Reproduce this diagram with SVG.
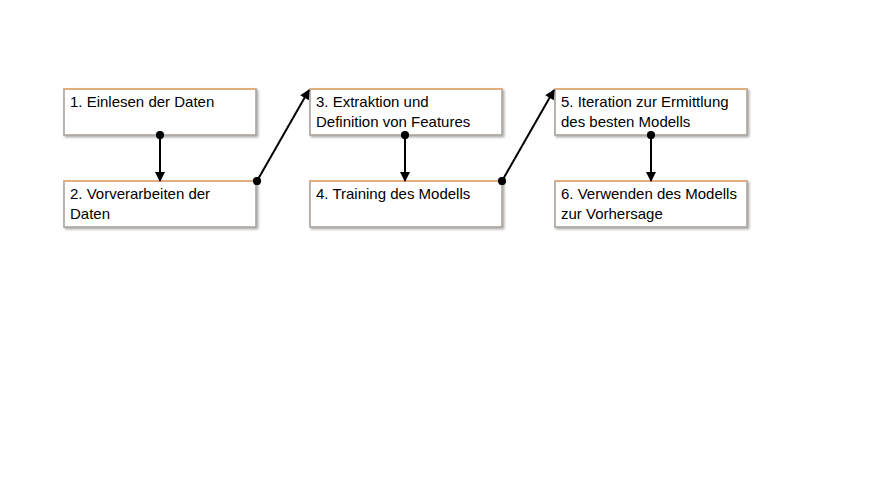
<svg xmlns="http://www.w3.org/2000/svg" width="872" height="490" viewBox="0 0 872 490">
<defs>
<marker id="arr" viewBox="0 0 10 10" refX="9" refY="5" markerWidth="5.5" markerHeight="5" markerUnits="strokeWidth" orient="auto"><path d="M0,0 L10,5 L0,10 z" fill="#000"/></marker>
<marker id="dot" viewBox="0 0 10 10" refX="5" refY="5" markerWidth="4.2" markerHeight="4.2" markerUnits="strokeWidth"><circle cx="5" cy="5" r="5" fill="#000"/></marker>
<filter id="sh" x="-5%" y="-10%" width="115%" height="130%"><feDropShadow dx="1.5" dy="1.5" stdDeviation="0.8" flood-color="#000" flood-opacity="0.35"/></filter>
</defs>
<style>
.box{fill:#fff;stroke:#a9a39b;stroke-width:1.6;filter:url(#sh)}
.top{stroke:#f0ad70;stroke-width:1.6}
text{font-family:"Liberation Sans",Arial,sans-serif;font-size:15px;fill:#000}
.c{stroke:#000;stroke-width:2;fill:none;marker-start:url(#dot);marker-end:url(#arr)}
</style>
<rect width="872" height="490" fill="#fff"/>
<g id="n1"><rect class="box" x="64" y="89" width="192" height="46"/><line class="top" x1="64" y1="89" x2="256" y2="89"/><text x="70" y="107">1. Einlesen der Daten</text></g>
<g id="n2"><rect class="box" x="64" y="181" width="192" height="46"/><line class="top" x1="64" y1="181" x2="256" y2="181"/><text x="70" y="199">2. Vorverarbeiten der</text><text x="70" y="219">Daten</text></g>
<g id="n3"><rect class="box" x="310" y="89" width="192" height="46"/><line class="top" x1="310" y1="89" x2="502" y2="89"/><text x="316" y="107">3. Extraktion und</text><text x="316" y="127">Definition von Features</text></g>
<g id="n4"><rect class="box" x="310" y="181" width="192" height="46"/><line class="top" x1="310" y1="181" x2="502" y2="181"/><text x="316" y="199">4. Training des Modells</text></g>
<g id="n5"><rect class="box" x="555" y="89" width="192" height="46"/><line class="top" x1="555" y1="89" x2="747" y2="89"/><text x="561" y="107">5. Iteration zur Ermittlung</text><text x="561" y="127">des besten Modells</text></g>
<g id="n6"><rect class="box" x="555" y="181" width="192" height="46"/><line class="top" x1="555" y1="181" x2="747" y2="181"/><text x="561" y="199">6. Verwenden des Modells</text><text x="561" y="219">zur Vorhersage</text></g>
<g id="connectors">
<line class="c" x1="160" y1="135" x2="160" y2="181"/>
<line class="c" x1="257" y1="181" x2="309" y2="90"/>
<line class="c" x1="405" y1="135" x2="405" y2="181"/>
<line class="c" x1="502" y1="181" x2="554" y2="90"/>
<line class="c" x1="651" y1="135" x2="651" y2="181"/>
</g>
</svg>
